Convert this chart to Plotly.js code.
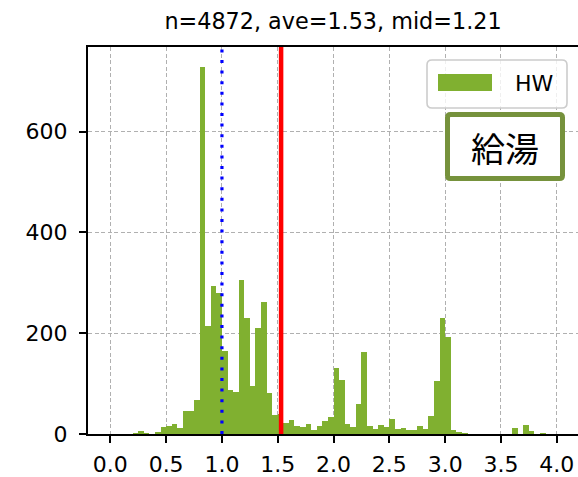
<!DOCTYPE html>
<html>
<head>
<meta charset="utf-8">
<script src="https://cdn.plot.ly/plotly-3.0.1.min.js"></script>
<style>html,body{margin:0;padding:0;background:#fff;}#chart{width:578px;height:477px;}</style>
</head>
<body>
<div id="chart"></div>
<script>
// bin centres (bin width 0.05, from 0.0 to 4.0)
const binCenters = [
 0.025,0.075,0.125,0.175,0.225,0.275,0.325,0.375,0.425,0.475,
 0.525,0.575,0.625,0.675,0.725,0.775,0.825,0.875,0.925,0.975,
 1.025,1.075,1.125,1.175,1.225,1.275,1.325,1.375,1.425,1.475,
 1.525,1.575,1.625,1.675,1.725,1.775,1.825,1.875,1.925,1.975,
 2.025,2.075,2.125,2.175,2.225,2.275,2.325,2.375,2.425,2.475,
 2.525,2.575,2.625,2.675,2.725,2.775,2.825,2.875,2.925,2.975,
 3.025,3.075,3.125,3.175,3.225,3.275,3.325,3.375,3.425,3.475,
 3.525,3.575,3.625,3.675,3.725,3.775,3.825,3.875,3.925,3.975
];
const counts = [
 0,0,0,0,2,5,2,0,3,13,
 16,20,12,46,46,67,728,214,294,280,
 165,87,84,306,231,96,210,262,81,37,
 40,22,27,16,13,19,8,16,26,34,
 130,107,20,14,60,163,16,10,18,14,
 30,10,12,7,7,16,9,35,105,231,
 192,7,3,2,1,1,1,1,1,0,
 1,0,11,1,18,5,1,2,0,0
];
const seriesName = "HW";
const boxLabel = "給湯";
const titleText = "n=4872, ave=1.53, mid=1.21";
const blueLineX = 1.0;
const redLineX = 1.53;
const xTickVals = [0,0.5,1.0,1.5,2.0,2.5,3.0,3.5,4.0];
const yTickVals = [0,200,400,600];

const FONT = "DejaVu Sans, Noto Sans CJK JP, sans-serif";
const barColor = "#80b030";

const trace = {
  type: "bar",
  x: binCenters,
  y: counts,
  width: 0.05,
  name: seriesName,
  marker: {color: barColor, line: {width: 0}},
  showlegend: false,
  hoverinfo: "x+y"
};

// pixel helpers -> paper coords (plot area: x 88..578, y 47..434)
const L = 88, W = 490, T = 47, H = 387;
const px = v => (v - L) / W;
const py = v => (T + H - v) / H;
function roundRect(x0, y0, x1, y1, r) {
  const rx = r / W, ry = r / H;
  const X0 = px(x0), X1 = px(x1), Y0 = py(y1), Y1 = py(y0);
  return `M ${X0+rx},${Y0} L ${X1-rx},${Y0} Q ${X1},${Y0} ${X1},${Y0+ry} L ${X1},${Y1-ry} Q ${X1},${Y1} ${X1-rx},${Y1} L ${X0+rx},${Y1} Q ${X0},${Y1} ${X0},${Y1-ry} L ${X0},${Y0+ry} Q ${X0},${Y0} ${X0+rx},${Y0} Z`;
}

const shapes = [
  {type: "line", xref: "x", yref: "paper", x0: blueLineX, x1: blueLineX, y0: 0, y1: 1,
   line: {color: "#0000ff", width: 3.2, dash: "3px,7.6px"}},
  {type: "line", xref: "x", yref: "paper", x0: redLineX, x1: redLineX, y0: 0, y1: 1,
   line: {color: "#ff0000", width: 4.5}},
  {type: "path", xref: "paper", yref: "paper", path: roundRect(427, 60, 567, 108, 5),
   fillcolor: "rgba(255,255,255,0.8)", line: {color: "#cccccc", width: 1.6}},
  {type: "rect", xref: "paper", yref: "paper", x0: px(438), x1: px(492), y0: py(91), y1: py(74),
   fillcolor: barColor, line: {width: 0}},
  {type: "path", xref: "paper", yref: "paper", path: roundRect(447.5, 114.5, 562.5, 178.5, 3),
   fillcolor: "#ffffff", line: {color: "#76923c", width: 5}}
];

const annotations = [
  {xref: "paper", yref: "paper", x: px(513), y: py(83), xanchor: "left", yanchor: "middle",
   text: seriesName, showarrow: false, font: {family: FONT, size: 22, color: "#000"}},
  {xref: "paper", yref: "paper", x: px(505), y: py(147), xanchor: "center", yanchor: "middle",
   text: boxLabel, showarrow: false, font: {family: "Noto Sans CJK JP, sans-serif", size: 34, color: "#000"}}
];

const layout = {
  width: 578, height: 477,
  margin: {l: 88, r: 0, t: 47, b: 43, pad: 0},
  paper_bgcolor: "#ffffff", plot_bgcolor: "#ffffff",
  title: {text: titleText, x: 0.5, xref: "paper", xanchor: "center", y: 0.955, yref: "container", yanchor: "middle",
          font: {family: FONT, size: 22.3, color: "#000"}},
  bargap: 0,
  xaxis: {
    range: [-0.2, 4.19], tickvals: xTickVals, tickformat: ".1f",
    showline: true, linecolor: "#000", linewidth: 2, mirror: true,
    ticks: "outside", ticklen: 7, tickwidth: 2, tickcolor: "#000", ticklabelstandoff: 3,
    showgrid: true, gridcolor: "#b0b0b0", gridwidth: 1, griddash: "4px,2.5px",
    zeroline: false, tickfont: {family: FONT, size: 22, color: "#000"}
  },
  yaxis: {
    range: [0, 768], tickvals: yTickVals,
    showline: true, linecolor: "#000", linewidth: 2, mirror: false,
    ticks: "outside", ticklen: 7, tickwidth: 2, tickcolor: "#000", ticklabelstandoff: 7,
    showgrid: true, gridcolor: "#b0b0b0", gridwidth: 1, griddash: "4px,2.5px",
    zeroline: false, tickfont: {family: FONT, size: 22, color: "#000"}
  },
  shapes: shapes,
  annotations: annotations,
  showlegend: false
};

Plotly.newPlot("chart", [trace], layout, {displayModeBar: false, staticPlot: true});
</script>
</body>
</html>
